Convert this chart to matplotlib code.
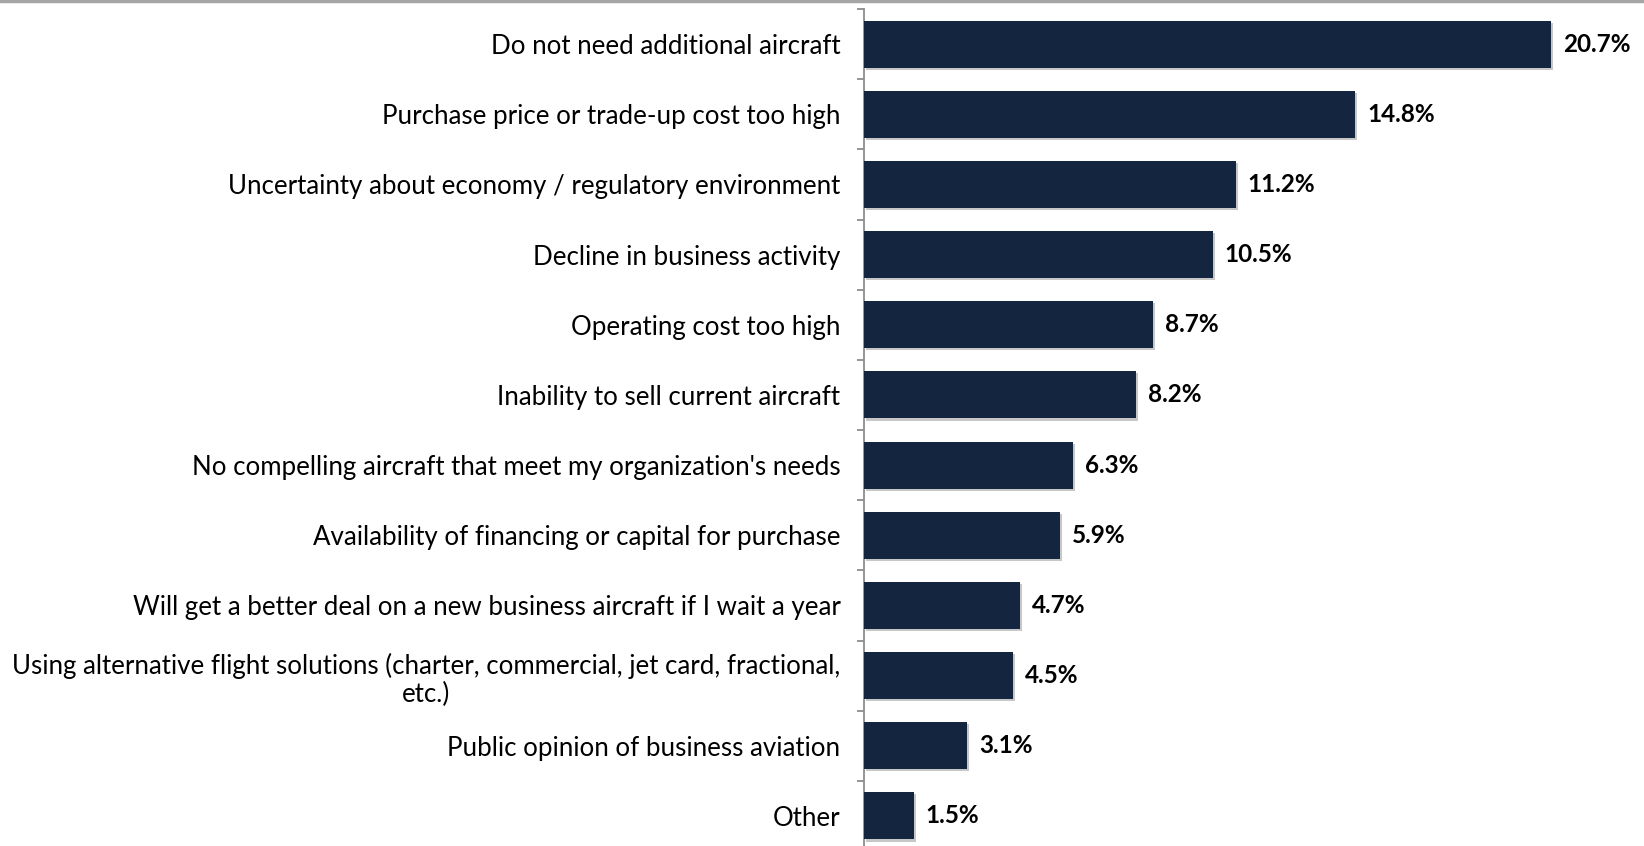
import matplotlib
matplotlib.use("Agg")
import matplotlib.pyplot as plt
import matplotlib.patheffects as pe
import numpy as np

categories = [
    "Do not need additional aircraft",
    "Purchase price or trade-up cost too high",
    "Uncertainty about economy / regulatory environment",
    "Decline in business activity",
    "Operating cost too high",
    "Inability to sell current aircraft",
    "No compelling aircraft that meet my organization's needs",
    "Availability of financing or capital for purchase",
    "Will get a better deal on a new business aircraft if I wait a year",
    "Using alternative flight solutions (charter, commercial, jet card, fractional,\netc.)",
    "Public opinion of business aviation",
    "Other",
]
values = [20.7, 14.8, 11.2, 10.5, 8.7, 8.2, 6.3, 5.9, 4.7, 4.5, 3.1, 1.5]
value_labels = ["20.7%", "14.8%", "11.2%", "10.5%", "8.7%", "8.2%", "6.3%",
                "5.9%", "4.7%", "4.5%", "3.1%", "1.5%"]

plt.rcParams['font.family'] = ['Lato', 'DejaVu Sans']

W, H = 1644, 846
fig = plt.figure(figsize=(W / 100, H / 100), dpi=100)
left_px, top_px, bottom_px = 864, 9, 851
ax = fig.add_axes([left_px / W, 1 - bottom_px / H, (W - left_px) / W, (bottom_px - top_px) / H])

bar_color = "#13253f"
y = np.arange(len(categories))
bars = ax.barh(y, values, height=0.67, color=bar_color, zorder=3)
for b in bars:
    b.set_path_effects([pe.SimplePatchShadow(offset=(1.5, -1.5), shadow_rgbFace="#000000", alpha=0.22), pe.Normal()])

ax.set_xlim(0, (W - left_px) / 33.2)
ax.set_ylim(len(categories) - 0.5, -0.5)

for yi, v, lab in zip(y, values, value_labels):
    ax.annotate(lab, (v, yi), xytext=(8.5, 0), textcoords="offset points",
                va="center", ha="left", fontsize=17.5, fontweight="bold", color="#000000")

ax.set_yticks(y)
ax.set_yticklabels(categories, fontsize=18.6, color="#000000")
for t in ax.get_yticklabels():
    t.set_multialignment("center")
    t.set_linespacing(1.15)
ax.tick_params(axis="y", which="major", length=0, pad=17)
ax.set_yticks(np.arange(-0.5, len(categories) + 0.5, 1), minor=True)
ax.tick_params(axis="y", which="minor", length=5, width=1.3, color="#8c8c8c")
ax.set_xticks([])

for s in ["top", "right", "bottom"]:
    ax.spines[s].set_visible(False)
ax.spines["left"].set_color("#8c8c8c")
ax.spines["left"].set_linewidth(1.3)

# top border line
fig.add_artist(plt.Line2D([0, 1], [1 - 1.5 / H, 1 - 1.5 / H], transform=fig.transFigure,
                          color="#a6a6a6", linewidth=2.5))

fig.savefig("out.png", dpi=100)
